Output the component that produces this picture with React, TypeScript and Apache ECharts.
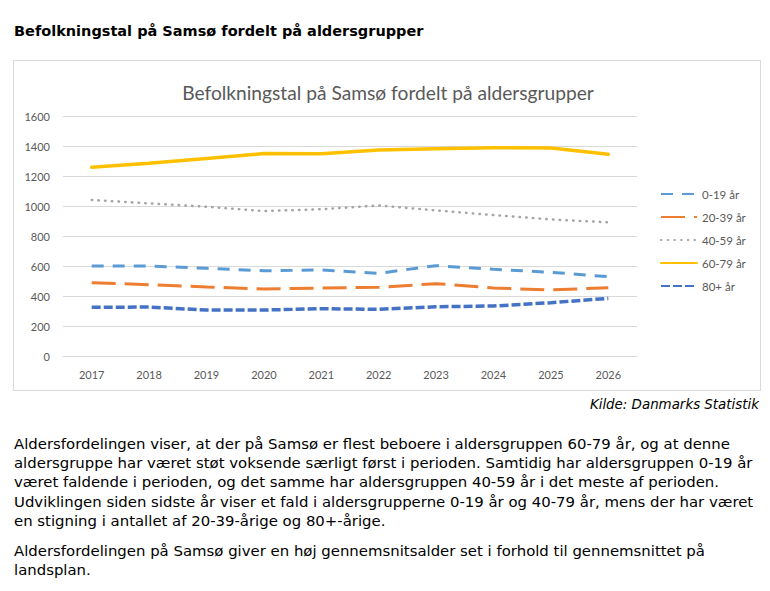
import React, { useEffect, useRef } from 'react';
import * as echarts from 'echarts';

const years = ['2017', '2018', '2019', '2020', '2021', '2022', '2023', '2024', '2025', '2026'];
const seriesNames = ['0-19 år', '20-39 år', '40-59 år', '60-79 år', '80+ år'];
const age0to19 = [605, 605, 589, 573, 578, 556, 607, 583, 563, 533];
const age20to39 = [493, 480, 465, 451, 458, 463, 487, 458, 445, 460];
const age40to59 = [1045, 1022, 1000, 971, 983, 1008, 975, 944, 915, 896];
const age60to79 = [1263, 1289, 1322, 1354, 1353, 1378, 1386, 1393, 1392, 1350];
const age80plus = [329, 331, 311, 311, 320, 316, 333, 338, 360, 389];
const yMin = 0;
const yMax = 1600;
const yInterval = 200;

const pageHeading = 'Befolkningstal på Samsø fordelt på aldersgrupper';
const chartTitle = 'Befolkningstal på Samsø fordelt på aldersgrupper';
const sourceText = 'Kilde: Danmarks Statistik';
const paragraph1 = [
  'Aldersfordelingen viser, at der på Samsø er flest beboere i aldersgruppen 60-79 år, og at denne',
  'aldersgruppe har været støt voksende særligt først i perioden. Samtidig har aldersgruppen 0-19 år',
  'været faldende i perioden, og det samme har aldersgruppen 40-59 år i det meste af perioden.',
  'Udviklingen siden sidste år viser et fald i aldersgrupperne 0-19 år og 40-79 år, mens der har været',
  'en stigning i antallet af 20-39-årige og 80+-årige.',
];
const paragraph2 = [
  'Aldersfordelingen på Samsø giver en høj gennemsnitsalder set i forhold til gennemsnittet på',
  'landsplan.',
];

const seriesData = [age0to19, age20to39, age40to59, age60to79, age80plus];
const seriesColors = ['#5B9BD5', '#ED7D31', '#A5A5A5', '#FFC000', '#4472C4'];
const seriesDash: any[] = [[12, 9], [24, 9], [0.5, 6.2], 'solid', [9, 3]];
const seriesWidth = [3, 3, 2.5, 3.5, 3.5];
const seriesCap = ['butt', 'butt', 'round', 'round', 'butt'];

const textFont = '14.9px "DejaVu Sans", Verdana, sans-serif';

function textEl(text: string, x: number, y: number, font: string, fill: string, align = 'left') {
  return {
    type: 'text',
    silent: true,
    style: {
      text,
      x,
      y,
      font,
      fill,
      align,
      textAlign: align,
      verticalAlign: 'middle',
      textVerticalAlign: 'middle',
    },
  };
}

export default function App() {
  const ref = useRef<HTMLDivElement>(null);

  useEffect(() => {
    if (!ref.current) return;
    const chart = echarts.init(ref.current, undefined, { renderer: 'svg' });

    const graphics: any[] = [
      {
        type: 'rect',
        silent: true,
        z: -1,
        shape: { x: 13.5, y: 60.5, width: 747, height: 330 },
        style: { fill: 'none', stroke: '#D9D9D9', lineWidth: 1 },
      },
      textEl(pageHeading, 14, 31, 'bold 14.5px "DejaVu Sans", Verdana, sans-serif', '#000'),
      textEl(sourceText, 759, 404, 'italic 13.4px "DejaVu Sans", Verdana, sans-serif', '#000', 'right'),
    ];
    const lh = 19.2;
    paragraph1.forEach((line, i) => {
      graphics.push(textEl(line, 14, 444 + i * lh, textFont, '#000'));
    });
    paragraph2.forEach((line, i) => {
      graphics.push(textEl(line, 14, 551 + i * lh, textFont, '#000'));
    });

    chart.setOption({
      animation: false,
      backgroundColor: '#fff',
      title: {
        text: chartTitle,
        left: 383,
        top: 75,
        textAlign: 'center',
        textStyle: {
          fontFamily: 'Lato',
          fontSize: 19.2,
          fontWeight: 'normal',
          color: '#595959',
          lineHeight: 24,
        },
      },
      legend: {
        orient: 'vertical',
        left: 660,
        top: 188,
        padding: 0,
        itemWidth: 36,
        itemHeight: 14,
        itemGap: 11,
        itemStyle: { opacity: 0 },
        textStyle: { fontFamily: 'Lato', fontSize: 11.5, color: '#595959' },
        data: seriesNames,
      },
      grid: { left: 63, right: 133, top: 116.7, bottom: 234.3, containLabel: false },
      xAxis: {
        type: 'category',
        data: years,
        boundaryGap: true,
        axisTick: { show: false },
        axisLine: { show: true, lineStyle: { color: '#D9D9D9', width: 1 } },
        axisLabel: { color: '#595959', fontFamily: 'Lato', fontSize: 11, margin: 12 },
      },
      yAxis: {
        type: 'value',
        min: yMin,
        max: yMax,
        interval: yInterval,
        axisLine: { show: false },
        axisTick: { show: false },
        splitLine: { lineStyle: { color: '#D9D9D9', width: 1 } },
        axisLabel: {
          color: '#595959',
          fontFamily: 'Lato',
          fontSize: 11,
          margin: 13,
          formatter: (v: number) => String(v),
        },
      },
      graphic: graphics,
      series: seriesNames.map((name, i) => ({
        name,
        type: 'line',
        data: seriesData[i],
        symbol: 'none',
        smooth: false,
        silent: true,
        color: seriesColors[i],
        lineStyle: {
          color: seriesColors[i],
          width: seriesWidth[i],
          type: seriesDash[i],
          cap: seriesCap[i],
        },
      })),
    });

    return () => chart.dispose();
  }, []);

  return (
    <div
      ref={ref}
      style={{ position: 'absolute', left: 0, top: 0, width: 770, height: 591 }}
    />
  );
}
